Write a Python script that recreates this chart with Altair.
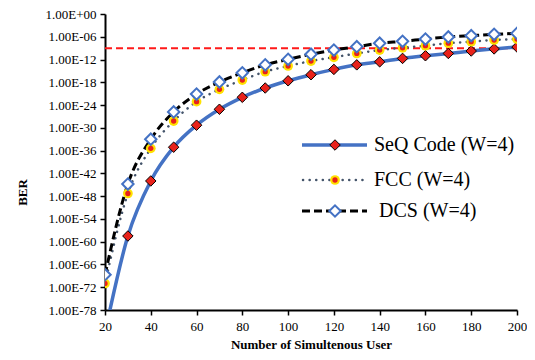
import altair as alt
import pandas as pd

# Number of simultaneous users
users = [20, 30, 40, 50, 60, 70, 80, 90, 100, 110, 120, 130, 140, 150, 160, 170, 180, 190, 200]
# log10(BER)
seq_exp = [-84.0, -58.5, -44.0, -35.1, -29.3, -25.1, -21.95, -19.5, -17.6, -16.0, -14.6,
           -13.4, -12.6, -11.7, -11.0, -10.4, -9.75, -9.2, -8.7]
fcc_exp = [-71.0, -47.3, -35.4, -28.2, -23.1, -19.85, -17.4, -15.2, -13.7, -12.4, -11.4,
           -10.4, -9.5, -8.9, -8.35, -7.7, -7.3, -6.85, -6.6]
dcs_exp = [-68.7, -44.8, -33.0, -25.8, -21.1, -17.9, -15.5, -13.4, -11.95, -10.6, -9.5,
           -8.6, -7.7, -7.2, -6.6, -6.05, -5.7, -5.35, -5.1]
threshold_exp = -9
series_names = ["SeQ Code (W=4)", "FCC (W=4)", "DCS (W=4)"]
x_ticks = [20, 40, 60, 80, 100, 120, 140, 160, 180, 200]
y_tick_exps = list(range(0, -79, -6))

FONT = "Liberation Serif, Times New Roman, DejaVu Serif, serif"

rows = []
for name, exps in zip(series_names, [seq_exp, fcc_exp, dcs_exp]):
    for u, e in zip(users, exps):
        rows.append({"users": u, "ber": 10.0 ** e, "series": name})
df = pd.DataFrame(rows)

thr = pd.DataFrame({"x": [users[0]], "x2": [users[-1]], "y": [10.0 ** threshold_exp]})

label_expr = ("'1.00E' + (round(log(datum.value)/LN10) >= 0 ? '+' : '-') + "
              "(abs(round(log(datum.value)/LN10)) < 10 ? '0' : '') + abs(round(log(datum.value)/LN10))")

W = 412
xenc = alt.X("users:Q", scale=alt.Scale(domain=[20, 200], nice=False, zero=False),
             axis=alt.Axis(values=x_ticks, title="Number of Simultenous User",
                           titleX=W / 2, titleY=34, titleBaseline="middle",
                           labelPadding=5, tickSize=5, labelFlush=False))
yenc = alt.Y("ber:Q", scale=alt.Scale(type="log", domain=[1e-78, 1], nice=False),
             axis=alt.Axis(values=[10.0 ** k for k in y_tick_exps], labelExpr=label_expr,
                           title="BER", titleX=-83, titleY=178, titleAngle=270,
                           titleAlign="center", titleBaseline="middle",
                           tickSize=5, labelPadding=4, labelFlush=False))

base = alt.Chart(df).encode(x=xenc, y=yenc)

BLUE = "#4472C4"
RED = "#E8221B"
YELLOW = "#FFE200"
SLATE = "#44546A"

threshold = alt.Chart(thr).mark_rule(color="#FF1A1A", strokeWidth=2, strokeDash=[7, 4]).encode(
    x="x:Q", x2="x2:Q", y="y:Q")

seq_line = base.transform_filter(alt.datum.series == series_names[0]).mark_line(
    color=BLUE, strokeWidth=3.5, interpolate="monotone", clip=True)
fcc_line = base.transform_filter(alt.datum.series == series_names[1]).mark_line(
    color=SLATE, strokeWidth=2.5, strokeDash=[0.1, 6.5], strokeCap="round",
    interpolate="monotone", clip=True)
dcs_line = base.transform_filter(alt.datum.series == series_names[2]).mark_line(
    color="black", strokeWidth=3, strokeDash=[8, 4], interpolate="monotone", clip=True)

seq_pts = base.transform_filter(alt.datum.series == series_names[0]).mark_point(
    shape="diamond", filled=True, fill=RED, stroke="black", strokeWidth=1, size=110,
    opacity=1, clip=True)
fcc_outer = base.transform_filter(alt.datum.series == series_names[1]).mark_point(
    shape="circle", filled=True, color=YELLOW, size=95, opacity=1, clip=True)
fcc_inner = base.transform_filter(alt.datum.series == series_names[1]).mark_point(
    shape="circle", filled=True, color=RED, size=28, opacity=1, clip=True)
dcs_pts = base.transform_filter(alt.datum.series == series_names[2]).mark_point(
    shape="diamond", filled=False, fill="white", stroke=BLUE, strokeWidth=2, size=130,
    opacity=1, clip=True)

# Legend (drawn inside plot area)
one = pd.DataFrame({"label": series_names})
leg_rows = [131, 166, 197]
LX = 197


def leg_data(i):
    return alt.Chart(one).transform_filter(alt.datum.label == series_names[i])


leg = []
# SeQ
leg.append(leg_data(0).mark_rule(color=BLUE, strokeWidth=3.5).encode(
    x=alt.value(LX), x2=alt.value(LX + 65), y=alt.value(leg_rows[0])))
leg.append(leg_data(0).mark_point(shape="diamond", filled=True, fill=RED, stroke="black",
                                  strokeWidth=1, size=110, opacity=1).encode(
    x=alt.value(LX + 33), y=alt.value(leg_rows[0])))
# FCC
leg.append(leg_data(1).mark_rule(color=SLATE, strokeWidth=2.5, strokeDash=[0.1, 6.5],
                                 strokeCap="round").encode(
    x=alt.value(LX + 1), x2=alt.value(LX + 63), y=alt.value(leg_rows[1])))
leg.append(leg_data(1).mark_point(shape="circle", filled=True, color=YELLOW, size=95,
                                  opacity=1).encode(x=alt.value(LX + 33), y=alt.value(leg_rows[1])))
leg.append(leg_data(1).mark_point(shape="circle", filled=True, color=RED, size=28,
                                  opacity=1).encode(x=alt.value(LX + 33), y=alt.value(leg_rows[1])))
# DCS
leg.append(leg_data(2).mark_rule(color="black", strokeWidth=3, strokeDash=[8, 4]).encode(
    x=alt.value(LX), x2=alt.value(LX + 65), y=alt.value(leg_rows[2])))
leg.append(leg_data(2).mark_point(shape="diamond", filled=False, fill="white", stroke=BLUE,
                                  strokeWidth=2, size=130, opacity=1).encode(
    x=alt.value(LX + 33), y=alt.value(leg_rows[2])))
for i, xoff in zip(range(3), [LX + 72, LX + 72, LX + 77]):
    leg.append(leg_data(i).mark_text(align="left", baseline="middle", font=FONT,
                                     fontSize=20, color="black").encode(
        x=alt.value(xoff), y=alt.value(leg_rows[i]), text="label:N"))

chart = alt.layer(
    threshold, seq_line, fcc_line, dcs_line, seq_pts, fcc_outer, fcc_inner, dcs_pts, *leg
).properties(
    width=W, height=296,
    autosize=alt.AutoSizeParams(type="none"),
    padding={"left": 97, "top": 6, "right": 10, "bottom": 42},
).configure_view(stroke=None).configure_axis(
    grid=False, domainColor="black", domainWidth=2, tickColor="black", tickWidth=1.5,
    labelFont=FONT, labelFontSize=13, labelColor="black",
    titleFont=FONT, titleFontSize=13, titleFontWeight="bold", titleColor="black",
)

chart.save("out.html", embed_options={"renderer": "svg", "actions": False})
